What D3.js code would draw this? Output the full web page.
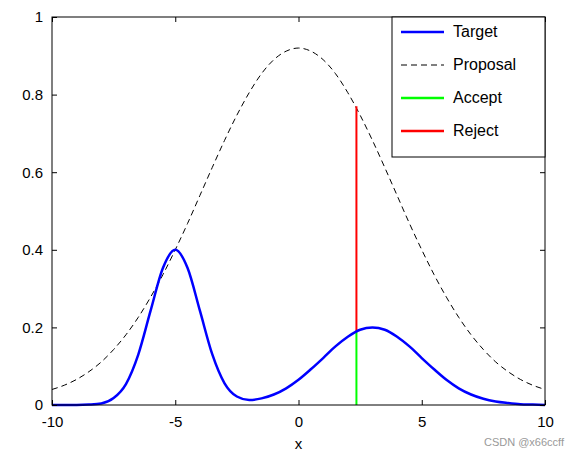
<!DOCTYPE html>
<html><head><meta charset="utf-8">
<script src="https://cdn.jsdelivr.net/npm/d3@7"></script>
<style>body{margin:0;background:#fff}text{font-family:"Liberation Sans",Arial,sans-serif}</style>
</head><body><svg id="c" width="573" height="456"></svg>
<script>
const xs = [-10,-9.5,-9,-8.5,-8,-7.5,-7,-6.5,-6,-5.5,-5,-4.5,-4,-3.5,-3,-2.5,-2,-1.5,-1,-0.5,0,0.5,1,1.5,2,2.5,3,3.5,4,4.5,5,5.5,6,6.5,7,7.5,8,8.5,9,9.5,10];
const target = [0,0,0,0.001,0.004,0.018,0.054,0.130,0.243,0.353,0.400,0.353,0.243,0.131,0.056,0.022,0.013,0.017,0.027,0.043,0.065,0.092,0.121,0.151,0.176,0.194,0.200,0.194,0.176,0.151,0.121,0.092,0.065,0.043,0.027,0.016,0.009,0.005,0.002,0.001,0];
const proposal = [0.040,0.051,0.066,0.086,0.111,0.143,0.181,0.226,0.278,0.336,0.400,0.468,0.540,0.612,0.682,0.747,0.805,0.854,0.890,0.912,0.920,0.912,0.890,0.854,0.805,0.747,0.682,0.612,0.540,0.468,0.400,0.336,0.278,0.226,0.181,0.143,0.111,0.086,0.066,0.051,0.040];
const sampleX = 2.35, acceptTop = 0.19, rejectTop = 0.77;
const xTicks = [-10,-5,0,5,10], yTicks = [0,0.2,0.4,0.6,0.8,1];
const legendLabels = ["Target","Proposal","Accept","Reject"];

const svg = d3.select("#c");
const L=52,R=545,T=17,B=405;
const x = d3.scaleLinear().domain([-10,10]).range([L,R]);
const y = d3.scaleLinear().domain([0,1]).range([B,T]);
const line = d3.line().x((d,i)=>x(xs[i])).y(d=>y(d)).curve(d3.curveMonotoneX);

svg.append("path").datum(proposal).attr("d",line).attr("fill","none").attr("stroke","#000").attr("stroke-width",1).attr("stroke-dasharray","6,4");
svg.append("line").attr("x1",x(sampleX)).attr("x2",x(sampleX)).attr("y1",y(0)).attr("y2",y(acceptTop)).attr("stroke","#00ff00").attr("stroke-width",2);
svg.append("line").attr("x1",x(sampleX)).attr("x2",x(sampleX)).attr("y1",y(acceptTop)).attr("y2",y(rejectTop)).attr("stroke","#ff0000").attr("stroke-width",2);
svg.append("path").datum(target).attr("d",line).attr("fill","none").attr("stroke","#0000ff").attr("stroke-width",2.5);

const ax = svg.append("g");
ax.append("g").attr("transform",`translate(0,${B})`).call(d3.axisBottom(x).tickValues(xTicks).tickSizeInner(-5).tickSizeOuter(0).tickPadding(11).tickFormat(d=>String(d)));
ax.append("g").attr("transform",`translate(0,${T})`).call(d3.axisTop(x).tickValues(xTicks).tickSizeInner(-5).tickSizeOuter(0).tickFormat(""));
ax.append("g").attr("transform",`translate(${L},0)`).call(d3.axisLeft(y).tickValues(yTicks).tickSizeInner(-5).tickSizeOuter(0).tickPadding(9).tickFormat(d=>String(+d.toFixed(1))));
ax.append("g").attr("transform",`translate(${R},0)`).call(d3.axisRight(y).tickValues(yTicks).tickSizeInner(-5).tickSizeOuter(0).tickFormat(""));
ax.selectAll("text").attr("font-size",15).attr("fill","#000").style("font-family","Liberation Sans, Arial, sans-serif");
ax.selectAll(".domain").remove();
ax.selectAll(".tick line").attr("stroke","#000");
svg.append("rect").attr("x",L).attr("y",T).attr("width",R-L).attr("height",B-T).attr("fill","none").attr("stroke","#000");
svg.append("text").attr("x",(L+R)/2).attr("y",449).attr("text-anchor","middle").attr("font-size",15).text("x");

const lg = svg.append("g");
lg.append("rect").attr("x",392).attr("y",T).attr("width",R-392).attr("height",140).attr("fill","#fff").attr("stroke","#000");
const cols=["#0000ff","#000","#00ff00","#ff0000"];
legendLabels.forEach((t,i)=>{
  const yy=32+i*33;
  lg.append("line").attr("x1",401).attr("x2",444).attr("y1",yy).attr("y2",yy).attr("stroke",cols[i]).attr("stroke-width",i==1?1:2.5).attr("stroke-dasharray",i==1?"6,4":null);
  lg.append("text").attr("x",453).attr("y",yy+5).attr("font-size",16).text(t);
});
svg.append("text").attr("x",564).attr("y",446).attr("text-anchor","end").attr("font-size",11).attr("fill","#999").text("CSDN @x66ccff");
</script></body></html>
